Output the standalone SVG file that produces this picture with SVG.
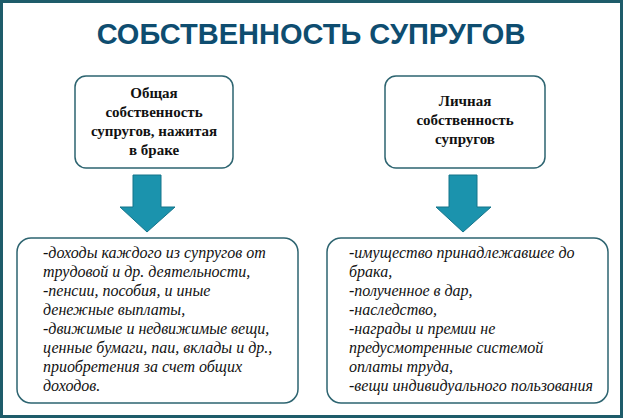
<svg xmlns="http://www.w3.org/2000/svg" width="623" height="418" viewBox="0 0 623 418">
<style>
.box{fill:#fff;stroke:#2d6470;stroke-width:1.5}
.arr{fill:#1b93ad;stroke:#15748a;stroke-width:1}
.h{font-weight:bold;font-size:15px;text-anchor:middle;fill:#111}
.b{font-style:italic;font-size:16px;fill:#111}
</style>
<rect x="1.5" y="1.5" width="620" height="415" fill="#fff" stroke="#1e5c6a" stroke-width="3"/>
<text x="311" y="44" font-family="'Liberation Sans', Arial, sans-serif" font-weight="bold" font-size="29" fill="#0e4d70" text-anchor="middle">СОБСТВЕННОСТЬ СУПРУГОВ</text>
<g id="connectors">
<path class="arr" d="M133,175 H161 V207 H175 L147,232 L120,207 H133 Z"/>
<path class="arr" d="M449,175 H477 V207 H491 L463,232 L436,207 H449 Z"/>
</g>
<g id="n1">
<rect class="box" x="75" y="76" width="158" height="92" rx="11"/>
<text class="h" font-family="'Liberation Serif', 'DejaVu Serif', serif"><tspan x="154" y="98">Общая</tspan><tspan x="154" y="117">собственность</tspan><tspan x="154" y="136">супругов, нажитая</tspan><tspan x="154" y="155">в браке</tspan></text>
</g>
<g id="n2">
<rect class="box" x="385" y="76" width="160" height="92" rx="11"/>
<text class="h" font-family="'Liberation Serif', 'DejaVu Serif', serif"><tspan x="465" y="106">Личная</tspan><tspan x="465" y="125">собственность</tspan><tspan x="465" y="144">супругов</tspan></text>
</g>
<g id="n3">
<rect class="box" x="17" y="238" width="281" height="165" rx="14"/>
<text class="b" font-family="'Liberation Serif', 'DejaVu Serif', serif"><tspan x="43" y="258">-доходы каждого из супругов от</tspan><tspan x="43" y="277">трудовой и др. деятельности,</tspan><tspan x="43" y="296">-пенсии, пособия, и иные</tspan><tspan x="43" y="315">денежные выплаты,</tspan><tspan x="43" y="334">-движимые и недвижимые вещи,</tspan><tspan x="43" y="353">ценные бумаги, паи, вклады и др.,</tspan><tspan x="43" y="372">приобретения за счет общих</tspan><tspan x="43" y="391">доходов.</tspan></text>
</g>
<g id="n4">
<rect class="box" x="327" y="238" width="281" height="165" rx="14"/>
<text class="b" font-family="'Liberation Serif', 'DejaVu Serif', serif"><tspan x="349" y="258">-имущество принадлежавшее до</tspan><tspan x="349" y="277">брака,</tspan><tspan x="349" y="296">-полученное в дар,</tspan><tspan x="349" y="315">-наследство,</tspan><tspan x="349" y="334">-награды и премии не</tspan><tspan x="349" y="353">предусмотренные системой</tspan><tspan x="349" y="372">оплаты труда,</tspan><tspan x="349" y="391">-вещи индивидуального пользования</tspan></text>
</g>
</svg>
